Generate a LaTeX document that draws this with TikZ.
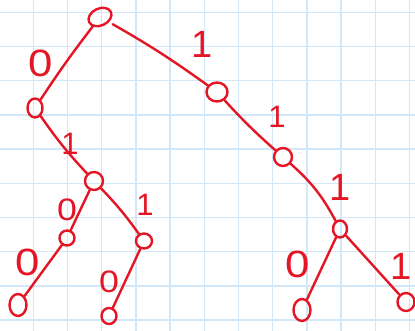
\documentclass[tikz,border=0pt]{standalone}
\usepackage{fontspec}
\setmainfont{Liberation Sans}
\usetikzlibrary{shapes.geometric}
\definecolor{ink}{RGB}{228,22,38}
\definecolor{gridblue}{RGB}{210,232,248}
\tikzset{
  vtx/.style={draw=ink, line width=2.4pt, ellipse, inner sep=0pt, minimum width=#1},
  vtx/.default=18pt,
  edge/.style={draw=ink, line width=2.4pt, line cap=round},
  lbl/.style={text=ink, font=\fontsize{38}{38}\selectfont, inner sep=0pt},
  slbl/.style={text=ink, font=\fontsize{31}{31}\selectfont, inner sep=0pt},
  zero/.style={xscale=1.15}
}
\begin{document}
\begin{tikzpicture}[x=1pt,y=-1pt]
\useasboundingbox (0,0) rectangle (415,331);
\fill[white] (0,0) rectangle (415,331);
\foreach \k in {-1,...,11} {
  \draw[gridblue, line width=1.5pt] ({33.3+34.2*\k},0) -- ({33.3+34.2*\k},331);
}
\foreach \k in {0,...,9} {
  \draw[gridblue, line width=1.5pt] (0,{12.3+34.2*\k}) -- (415,{12.3+34.2*\k});
}
% vertices
\node[vtx=24pt, minimum height=17pt, rotate=25] (r) at (100,17) {};
\node[vtx=15pt, minimum height=19pt] (a) at (35,108) {};
\node[vtx=21pt, minimum height=19pt] (b) at (217,92) {};
\node[vtx=18pt, minimum height=18pt] (c) at (283,157) {};
\node[vtx=18pt, minimum height=18pt] (d) at (94,181) {};
\node[vtx=15pt, minimum height=15pt] (e) at (67,238) {};
\node[vtx=16pt, minimum height=15pt] (f) at (144,241) {};
\node[vtx=17pt, minimum height=22pt] (g) at (18,305) {};
\node[vtx=15pt, minimum height=16pt] (h) at (109,316) {};
\node[vtx=14pt, minimum height=17pt] (i) at (340,229) {};
\node[vtx=17pt, minimum height=22pt] (j) at (302,310) {};
\node[vtx=17pt, minimum height=18pt] (k) at (406,302) {};
% edges
\draw[edge] (r) to[bend right=2] (a);
\draw[edge, shorten <=4pt] (r) to[bend left=3] (b);
\draw[edge] (b) to[bend right=3] (c);
\draw[edge] (c) to[bend left=10] (i);
\draw[edge] (a) to[bend right=4] (d);
\draw[edge] (d) -- (e);
\draw[edge] (d) to[bend left=4] (f);
\draw[edge] (e) -- (g);
\draw[edge] (f) -- (h);
\draw[edge] (i) -- (j);
\draw[edge] (i) -- (k);
% labels
\node[lbl, zero] (l1) at (41,63) {0};
\node[lbl] (l2) at (202,44) {1};
\node[slbl] (l3) at (70,144) {1};
\node[slbl] (l4) at (277,117) {1};
\node[lbl] (l5) at (340,187) {1};
\node[slbl, zero] (l6) at (67,210) {0};
\node[slbl] (l7) at (145,205) {1};
\node[lbl, zero] (l8) at (28,262) {0};
\node[slbl, zero] (l9) at (109,282) {0};
\node[lbl, zero] (l10) at (298,264) {0};
\node[lbl] (l11) at (401,266) {1};
\end{tikzpicture}
\end{document}
